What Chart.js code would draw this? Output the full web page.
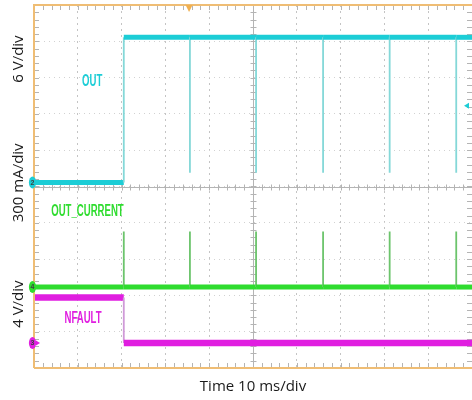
<!DOCTYPE html>
<html>
<head>
<meta charset="utf-8">
<script src="https://cdn.jsdelivr.net/npm/chart.js@4/dist/chart.umd.min.js"></script>
<style>
  html, body { margin: 0; padding: 0; background: #ffffff; overflow: hidden; }
  canvas { display: block; }
</style>
</head>
<body>
<canvas id="scope" width="472" height="400"></canvas>
<script>
// Horizontal sweep: 10 divisions at 10 ms/div
const timeRangeMs = [0, 100];
// Vertical graticule: 10 divisions
const divRange = [0, 10];

// CH2 – OUT (V): output switches on, then short dips at each retry
const outTimesMs = [0, 20.5, 20.5, 35.6, 35.6, 35.6, 50.7, 50.7, 50.7, 66.0, 66.0, 66.0, 81.2, 81.2, 81.2, 96.4, 96.4, 96.4, 100];
const outVolts   = [0, 0, 24, 24, 1.6, 24, 24, 1.6, 24, 24, 1.6, 24, 24, 1.6, 24, 24, 1.6, 24, 24];

// CH4 – OUT_CURRENT (A): narrow current pulses at each switching event
const currentTimesMs = [0, 20.5, 20.5, 20.5, 35.6, 35.6, 35.6, 50.7, 50.7, 50.7, 66.0, 66.0, 66.0, 81.2, 81.2, 81.2, 96.4, 96.4, 96.4, 100];
const currentAmps    = [0, 0, 0.46, 0, 0, 0.46, 0, 0, 0.46, 0, 0, 0.46, 0, 0, 0.46, 0, 0, 0.46, 0, 0];

// CH3 – NFAULT (V): released low when the output comes up
const nfaultTimesMs = [0, 20.5, 20.5, 100];
const nfaultVolts   = [5, 5, 0, 0];

// Channel vertical settings: units per division and ground position (div)
const chOut     = { perDiv: 6,   zeroDiv: 5.11, tag: '2', color: '#1ccdd6', edge: '#84d8d8', title: '6 V/div',    titleDiv: 8.51, label: 'OUT',         labelAt: [13.3, 7.9] };
const chCurrent = { perDiv: 0.3, zeroDiv: 2.23, tag: '4', color: '#2fdc2f', edge: '#6cc46c', title: '300 mA/div', titleDiv: 5.10, label: 'OUT_CURRENT', labelAt: [12.2, 4.3] };
const chNfault  = { perDiv: 4,   zeroDiv: 0.69, tag: '3', color: '#e01ee0', edge: '#d09ad8', title: '4 V/div',    titleDiv: 1.76, label: 'NFAULT',      labelAt: [11.2, 1.35] };

// Trigger settings
const triggerTimeMs = 35.4;
const triggerLevelV = 12.7;   // on CH2

function toDiv(ch, v) { return ch.zeroDiv + v / ch.perDiv; }
function trace(ch, times, values) { return times.map((t, i) => ({ x: t, y: toDiv(ch, values[i]) })); }

function traceDataset(ch, times, values, width) {
  return {
    data: trace(ch, times, values),
    showLine: true,
    pointRadius: 0,
    borderColor: ch.color,
    borderWidth: width,
    borderJoinStyle: 'miter',
    borderCapStyle: 'butt',
    segment: {
      // fast edges show up thin and faint on the scope
      borderWidth: c => (c.p0.parsed.x === c.p1.parsed.x ? 1.8 : width),
      borderColor: c => (c.p0.parsed.x === c.p1.parsed.x ? ch.edge : ch.color)
    }
  };
}

const scopeOverlay = {
  id: 'scopeOverlay',
  beforeDatasetsDraw(chart) {
    const { ctx, chartArea: a, scales: { x, y } } = chart;
    ctx.save();
    ctx.strokeStyle = '#b4b4b4';
    ctx.lineWidth = 1;
    const cx = Math.round(x.getPixelForValue(50)) + 0.5;
    const cy = Math.round(y.getPixelForValue(5)) + 0.5;
    ctx.beginPath();
    ctx.moveTo(a.left, cy); ctx.lineTo(a.right, cy);
    ctx.moveTo(cx, a.top); ctx.lineTo(cx, a.bottom);
    for (let t = timeRangeMs[0]; t <= timeRangeMs[1]; t += 2) {
      const px = Math.round(x.getPixelForValue(t)) + 0.5;
      ctx.moveTo(px, a.top); ctx.lineTo(px, a.top + 5);
      ctx.moveTo(px, a.bottom); ctx.lineTo(px, a.bottom - 5);
      ctx.moveTo(px, cy - 3); ctx.lineTo(px, cy + 3);
    }
    for (let d = divRange[0]; d <= divRange[1] + 1e-6; d += 0.2) {
      const py = Math.round(y.getPixelForValue(d)) + 0.5;
      ctx.moveTo(a.left, py); ctx.lineTo(a.left + 5, py);
      ctx.moveTo(a.right, py); ctx.lineTo(a.right - 5, py);
      ctx.moveTo(cx - 3, py); ctx.lineTo(cx + 3, py);
    }
    ctx.stroke();
    ctx.restore();
  },
  afterDatasetsDraw(chart) {
    const { ctx, chartArea: a, scales: { x, y } } = chart;
    ctx.save();
    // frame
    ctx.strokeStyle = '#efbd74';
    ctx.lineWidth = 2;
    ctx.beginPath();
    ctx.moveTo(a.left, a.bottom); ctx.lineTo(a.left, a.top); ctx.lineTo(a.right + 2, a.top);
    ctx.moveTo(a.left, a.bottom); ctx.lineTo(a.right + 2, a.bottom);
    ctx.stroke();

    // trigger position marker
    const tx = x.getPixelForValue(triggerTimeMs);
    ctx.fillStyle = '#f0b050';
    ctx.beginPath();
    ctx.moveTo(tx - 3.5, a.top); ctx.lineTo(tx + 3.5, a.top); ctx.lineTo(tx, a.top + 7);
    ctx.closePath(); ctx.fill();

    // trigger level marker (CH2)
    const ty = y.getPixelForValue(toDiv(chOut, triggerLevelV));
    ctx.fillStyle = chOut.color;
    ctx.beginPath();
    ctx.moveTo(a.right - 8, ty); ctx.lineTo(a.right - 3, ty - 3); ctx.lineTo(a.right - 3, ty + 3);
    ctx.closePath(); ctx.fill();

    // channel ground markers
    [chOut, chCurrent, chNfault].forEach(ch => {
      const py = y.getPixelForValue(ch.zeroDiv);
      ctx.fillStyle = ch.color;
      ctx.beginPath();
      ctx.ellipse(a.left - 1.5, py, 3.6, 6, 0, 0, Math.PI * 2);
      ctx.fill();
      if (ch === chNfault) {
        ctx.beginPath();
        ctx.moveTo(a.left + 2, py - 2.5); ctx.lineTo(a.left + 6, py); ctx.lineTo(a.left + 2, py + 2.5);
        ctx.closePath(); ctx.fill();
      }
      ctx.fillStyle = '#404040';
      ctx.font = 'bold 7px "Liberation Sans"';
      ctx.textAlign = 'center';
      ctx.textBaseline = 'middle';
      ctx.fillText(ch.tag, a.left - 1.5, py + 0.5);
    });

    // channel names
    [chOut, chCurrent, chNfault].forEach(ch => {
      const px = x.getPixelForValue(ch.labelAt[0]);
      const py = y.getPixelForValue(ch.labelAt[1]);
      ctx.save();
      ctx.translate(px, py);
      ctx.scale(0.6, 1);
      ctx.fillStyle = ch.color;
      ctx.font = 'bold 16px "Liberation Sans"';
      ctx.textAlign = 'center';
      ctx.textBaseline = 'middle';
      ctx.fillText(ch.label, 0, 0);
      ctx.restore();
    });

    // vertical scale titles
    [chOut, chCurrent, chNfault].forEach(ch => {
      const py = y.getPixelForValue(ch.titleDiv);
      ctx.save();
      ctx.translate(19, py);
      ctx.rotate(-Math.PI / 2);
      ctx.fillStyle = '#1a1a1a';
      ctx.font = '15px "Open Sans"';
      ctx.textAlign = 'center';
      ctx.textBaseline = 'middle';
      ctx.fillText(ch.title, 0, 0);
      ctx.restore();
    });
    ctx.restore();
  }
};

new Chart(document.getElementById('scope'), {
  type: 'scatter',
  data: {
    datasets: [
      traceDataset(chNfault, nfaultTimesMs, nfaultVolts, 6.5),
      traceDataset(chCurrent, currentTimesMs, currentAmps, 5),
      traceDataset(chOut, outTimesMs, outVolts, 5)
    ]
  },
  options: {
    responsive: false,
    animation: false,
    devicePixelRatio: 1,
    layout: { padding: { left: 34, top: 5, right: 0, bottom: 0 } },
    plugins: { legend: { display: false }, tooltip: { enabled: false } },
    scales: {
      x: {
        type: 'linear',
        min: timeRangeMs[0], max: timeRangeMs[1],
        ticks: { display: false, stepSize: 10 },
        grid: { color: '#c4c4c4', lineWidth: 1, drawTicks: false },
        border: { display: false, dash: [2, 4] },
        title: { display: true, text: 'Time 10 ms/div', color: '#1a1a1a', font: { family: 'Open Sans', size: 15 }, padding: { top: 10, bottom: 4 } }
      },
      y: {
        type: 'linear',
        min: divRange[0], max: divRange[1],
        ticks: { display: false, stepSize: 1 },
        grid: { color: '#d2d2d2', lineWidth: 1, drawTicks: false },
        border: { display: false, dash: [1, 4] }
      }
    }
  },
  plugins: [scopeOverlay]
});
</script>
</body>
</html>
